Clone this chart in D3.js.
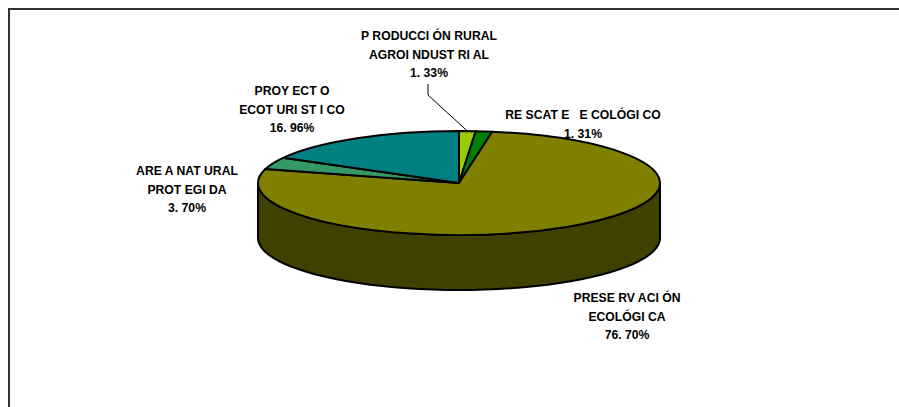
<!DOCTYPE html>
<html>

<head>
  <title>Pie</title>
  <style>
    body { margin: 0; background: #fff; }
    svg { display: block; }
    text { font-family: "Liberation Sans", Arial, sans-serif; font-size: 12.2px; font-weight: bold; fill: #000; white-space: pre; }
  </style>
</head>

<body>
  <svg id="svg"></svg>

  <script src="https://d3js.org/d3.v7.min.js"></script>
  <script>
    // clockwise from 12 o'clock, same order as the slices
    const categories = ["Producción rural agroindustrial", "Rescate ecológico", "Preservación ecológica", "Area natural protegida", "Proyecto ecoturístico"];
    const values = [1.33, 1.31, 76.70, 3.70, 16.96];
    const colors = ["#99cc00", "#008000", "#808000", "#339966", "#008080"];
    const labelLines = [
      ["P RODUCCI ÓN RURAL", "AGROI NDUST RI AL", "1. 33%"],
      ["RE SCAT E   E COLÓGI CO", "1. 31%"],
      ["PRESE RV ACI ÓN", "ECOLÓGI CA", "76. 70%"],
      ["ARE A NAT URAL", "PROT EGI DA", "3. 70%"],
      ["PROY ECT O", "ECOT URI ST I CO", "16. 96%"]
    ];

    const width = 899, height = 407;
    const cx = 459, cy = 183, rx = 201, ry = 52, depth = 55;
    const lineHeight = 18.5;
    // centre x and first baseline of each label
    const labelPos = [[429, 40], [583, 119], [627, 302], [187, 175], [292, 95]];

    const svg = d3.select("#svg").attr("width", width).attr("height", height);

    // frame, only top and left edges show in the crop
    svg.append("path")
      .attr("d", "M9,407V9H899")
      .attr("fill", "none")
      .attr("stroke", "#333")
      .attr("stroke-width", 2);

    const arcs = d3.pie().sort(null)(values);
    const arc = d3.arc().innerRadius(0).outerRadius(rx);

    // angle (0 = top, clockwise) to a point on the flattened rim
    const rimX = a => cx + rx * Math.sin(a);
    const rimY = a => cy - ry * Math.cos(a);

    // side wall, only the front half of the rim is visible
    const wall = d3.area()
      .x(rimX)
      .y0(rimY)
      .y1(a => rimY(a) + depth);

    svg.append("path")
      .attr("d", wall(d3.range(0, 49).map(i => Math.PI / 2 + i * Math.PI / 48)))
      .attr("fill", "#404000")
      .attr("stroke", "#000")
      .attr("stroke-width", 2)
      .attr("stroke-linejoin", "round");

    svg.append("g")
      .attr("transform", `translate(${cx},${cy}) scale(1,${ry / rx})`)
      .selectAll("path")
      .data(arcs)
      .join("path")
      .attr("d", arc)
      .attr("fill", (d, i) => colors[i])
      .attr("stroke", "#000")
      .attr("stroke-width", 2)
      .attr("stroke-linejoin", "round")
      .attr("vector-effect", "non-scaling-stroke");

    // leader line of the first label
    const leaderEnd = (arcs[0].startAngle + arcs[0].endAngle) / 2;
    svg.append("path")
      .attr("d", d3.line()([[428, 84], [428, 95], [rimX(leaderEnd), rimY(leaderEnd)]]))
      .attr("fill", "none")
      .attr("stroke", "#000")
      .attr("stroke-width", 1);

    svg.append("g")
      .selectAll("text")
      .data(labelLines)
      .join("text")
      .attr("text-anchor", "middle")
      .attr("transform", (d, i) => `translate(${labelPos[i][0]},${labelPos[i][1]})`)
      .selectAll("tspan")
      .data(d => d)
      .join("tspan")
      .attr("x", 0)
      .attr("y", (d, i) => i * lineHeight)
      .text(d => d);
  </script>
</body>

</html>
